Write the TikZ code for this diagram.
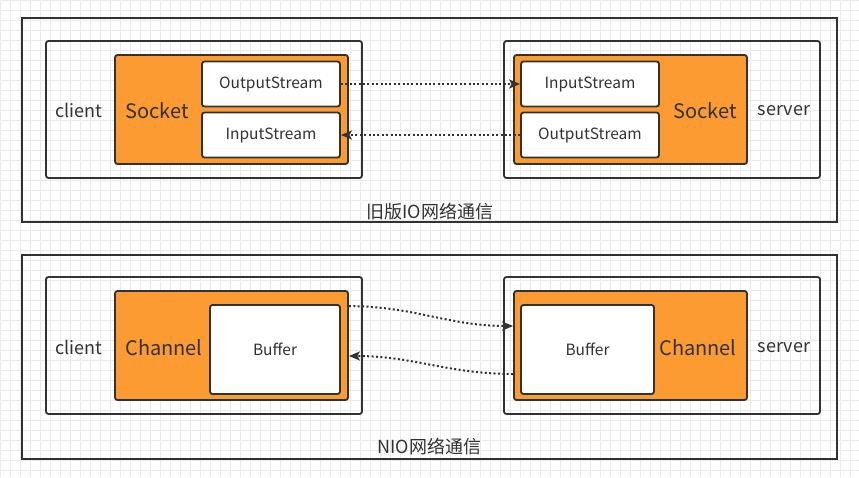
\documentclass[tikz,border=0pt]{standalone}
\usepackage{fontspec}
\setmainfont{Noto Sans CJK SC}
\usetikzlibrary{arrows.meta,positioning}

\definecolor{boxorange}{RGB}{252,155,50}
\definecolor{linegray}{RGB}{50,50,50}
\definecolor{gridgray}{RGB}{234,234,234}

\tikzset{
	frame/.style={draw=linegray,line width=1.8pt,minimum width=815pt,minimum height=204pt},
	hostbox/.style={draw=linegray,line width=1.8pt,rounded corners=2.5pt,minimum width=316pt,minimum height=137pt},
	orangebox/.style={draw=linegray,fill=boxorange,line width=1.8pt,rounded corners=2.5pt,minimum width=233pt,minimum height=109pt},
	streambox/.style={draw=linegray,fill=white,line width=1.8pt,rounded corners=2.5pt,minimum width=138pt,minimum height=45pt,font=\fontsize{15.5}{17}\selectfont},
	bufbox/.style={draw=linegray,fill=white,line width=1.8pt,rounded corners=2.5pt,minimum height=89pt,font=\fontsize{15.5}{17}\selectfont},
	hostname/.style={font=\fontsize{18}{20}\selectfont},
	bigname/.style={font=\fontsize{20}{22}\selectfont},
	flow/.style={linegray,line width=2pt,dash pattern=on 2pt off 2.4pt,-{Stealth[length=11pt,width=9pt,inset=2.5pt]}}
}

\begin{document}
\begin{tikzpicture}[x=1pt,y={(0pt,-1pt)},text=linegray]
	\useasboundingbox (0,0) rectangle (859,477);
	\fill[white] (0,0) rectangle (859,477);
	\draw[gridgray,step=10pt] (0,0) grid (859,477);

	% old IO
	\node[frame] (F1) at (429.5,120) {};
	\node[hostbox] (H1) at (204,109.5) {};
	\node[orangebox] (S1) at (231.5,109.5) {};
	\node[streambox] (O1) at (271,84) {OutputStream};
	\node[streambox] (I1) at (271,135) {InputStream};
	\node[hostname] (L1) at (79,110.5) {client};
	\node[bigname] (T1) at (157,110.5) {Socket};

	\node[hostbox] (H2) at (662,109.5) {};
	\node[orangebox] (S2) at (630.5,109.5) {};
	\node[streambox] (I2) at (590,84) {InputStream};
	\node[streambox] (O2) at (590,135) {OutputStream};
	\node[bigname] (T2) at (705,110.5) {Socket};
	\node[hostname] (L2) at (784,110.5) {server};

	\node[hostname] (C1) at (430,212) {旧版IO网络通信};

	\draw[flow] (O1.east) -- (I2.west);
	\draw[flow] (O2.west) -- (I1.east);

	% NIO
	\node[frame] (F2) at (429.5,357) {};
	\node[hostbox] (H3) at (204,345.5) {};
	\node[orangebox] (S3) at (231.5,345.5) {};
	\node[bufbox,minimum width=130pt] (B3) at (275,349.5) {Buffer};
	\node[hostname] (L3) at (79,347.5) {client};
	\node[bigname] (T3) at (164,347.5) {Channel};

	\node[hostbox] (H4) at (662,345.5) {};
	\node[orangebox] (S4) at (630.5,345.5) {};
	\node[bufbox,minimum width=133pt] (B4) at (587.5,349.5) {Buffer};
	\node[bigname] (T4) at (698,347.5) {Channel};
	\node[hostname] (L4) at (784,347.5) {server};

	\node[hostname] (C2) at (429.5,447) {NIO网络通信};

	\draw[flow] ([yshift=-16pt]S3.north east) to[out=0,in=180] ([yshift=19.5pt]S4.west);
	\draw[flow] ([yshift=-28.5pt]S4.west) to[out=180,in=0] ([yshift=-10.5pt]S3.east);
\end{tikzpicture}
\end{document}
